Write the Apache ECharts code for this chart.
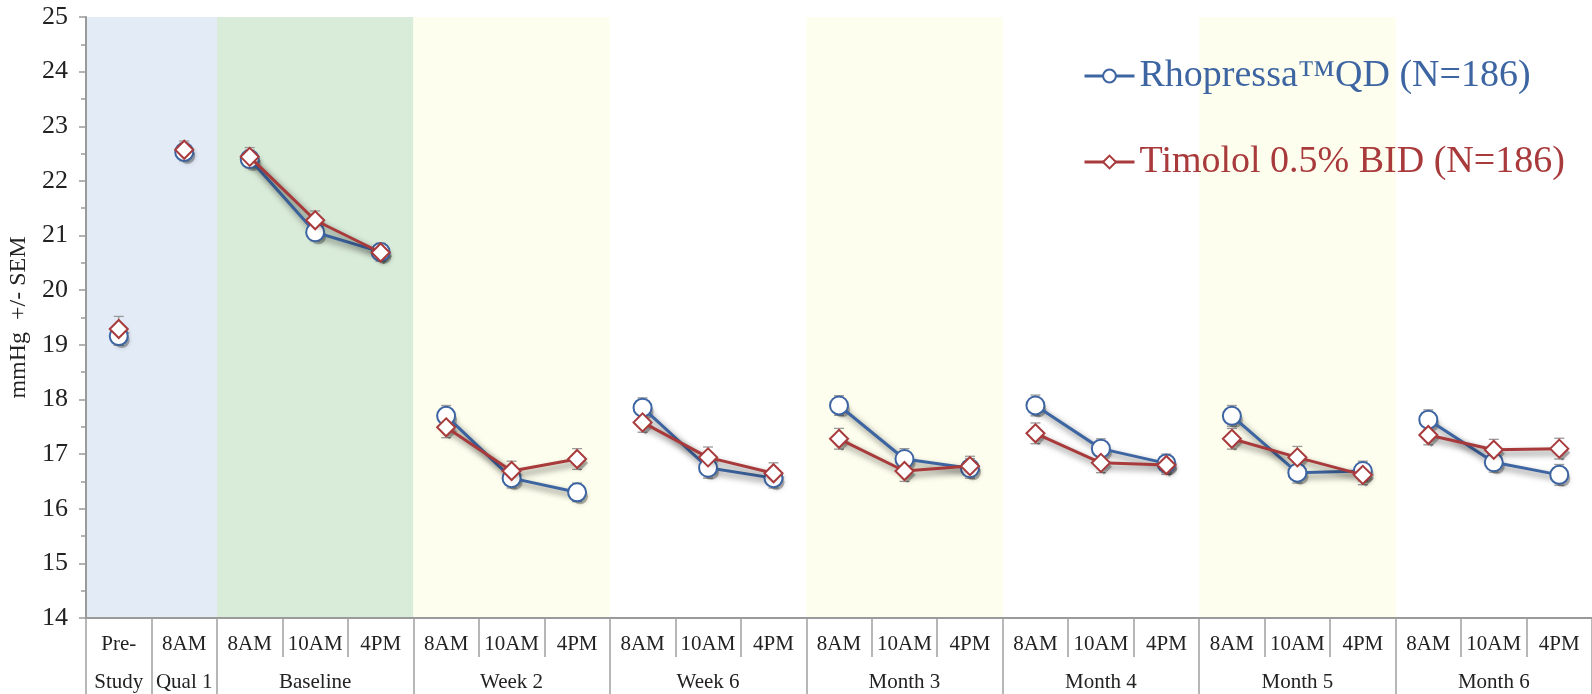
<!DOCTYPE html>
<html>
<head>
<meta charset="utf-8">
<script src="https://cdn.jsdelivr.net/npm/echarts@6/dist/echarts.min.js"></script>
<style>
html,body{margin:0;padding:0;background:#fff;}
#chart{width:1592px;height:694px;}
</style>
</head>
<body>
<div id="chart"></div>
<script>
// ---- data ----
var timeLabels = ['Pre-','8AM','8AM','10AM','4PM','8AM','10AM','4PM','8AM','10AM','4PM','8AM','10AM','4PM','8AM','10AM','4PM','8AM','10AM','4PM','8AM','10AM','4PM'];
var groupLabels = ['Study','Qual 1','','Baseline','','','Week 2','','','Week 6','','','Month 3','','','Month 4','','','Month 5','','','Month 6',''];
var rhopressa = [19.16,22.53,22.40,21.06,20.70,17.70,16.56,16.30,17.85,16.75,16.56,17.89,16.91,16.74,17.89,17.10,16.83,17.70,16.66,16.69,17.63,16.85,16.62];
var timolol   = [19.29,22.57,22.44,21.28,20.69,17.49,16.69,16.91,17.58,16.94,16.65,17.28,16.69,16.78,17.38,16.84,16.80,17.28,16.94,16.62,17.35,17.08,17.10];
var rhopressaSem = [0.17,0.16,0.16,0.16,0.16,0.19,0.18,0.17,0.18,0.19,0.18,0.18,0.19,0.18,0.19,0.18,0.17,0.19,0.19,0.18,0.18,0.18,0.19];
var timololSem   = [0.23,0.16,0.17,0.17,0.16,0.19,0.18,0.19,0.18,0.19,0.19,0.19,0.19,0.18,0.19,0.18,0.17,0.19,0.20,0.18,0.18,0.19,0.19];
var segments = [[0,0],[1,1],[2,4],[5,7],[8,10],[11,13],[14,16],[17,19],[20,22]];
var groupStarts = [0,1,2,5,8,11,14,17,20,23];
var bands = [[0,1],[2,4],[5,7],[11,13],[17,19]];
var bandColors = ['#E3EBF7','#D9EBD9','#FEFEEE','#FEFEEE','#FEFEEE'];
var yTicks = {min:14, max:25, interval:1};
var nameR = 'Rhopressa\u2122QD (N=186)';
var nameT = 'Timolol 0.5% BID (N=186)';

var BLUE = '#3D65A2', RED = '#A83A3C';
var FONT = '"Liberation Serif", "Times New Roman", serif';
var keys = timeLabels.map(function(_, i){ return 'c' + i; });

function segSeries(name, values, color, symbol, z){
  return segments.map(function(s){
    var d = values.map(function(v, i){ return (i >= s[0] && i <= s[1]) ? v : null; });
    return {
      name: name, type: 'line', data: d, z: z,
      symbol: symbol, symbolSize: 18, showSymbol: true,
      lineStyle: {color: color, width: 3, shadowColor: 'rgba(0,0,0,0.55)', shadowBlur: 6, shadowOffsetX: 3, shadowOffsetY: 4},
      itemStyle: {color: '#fff', borderColor: color, borderWidth: 2},
      emphasis: {disabled: true}
    };
  });
}

function errSeries(values, sems){
  return {
    type: 'custom', z: 2, silent: true,
    data: values.map(function(v, i){ return [i, v, sems[i]]; }),
    renderItem: function(params, api){
      var x = api.value(0), v = api.value(1), e = api.value(2);
      var top = api.coord([x, v + e]), bot = api.coord([x, v - e]);
      var w = 5;
      var st = {stroke: '#999999', lineWidth: 1.3};
      return {type: 'group', children: [
        {type: 'line', shape: {x1: top[0], y1: top[1], x2: bot[0], y2: bot[1]}, style: st},
        {type: 'line', shape: {x1: top[0]-w, y1: top[1], x2: top[0]+w, y2: top[1]}, style: st},
        {type: 'line', shape: {x1: bot[0]-w, y1: bot[1], x2: bot[0]+w, y2: bot[1]}, style: st}
      ]};
    }
  };
}

// soft drop shadows under markers
function shadowSeries(values, symbol){
  return {
    type: 'scatter', z: 2.5, silent: true, symbol: symbol, symbolSize: 16, symbolOffset: [3, 4],
    data: values.map(function(v, i){ return [i, v]; }),
    itemStyle: {color: 'rgba(0,0,0,0.35)', shadowColor: 'rgba(0,0,0,0.5)', shadowBlur: 5},
    emphasis: {disabled: true}
  };
}

var bandSeries = {
  type: 'custom', z: 0, silent: true,
  data: bands,
  encode: {x: [0, 1]},
  renderItem: function(params, api){
    var a = api.value(0), b = api.value(1);
    var bw = api.size([1, 0])[0];
    var p0 = api.coord([a, yTicks.max]), p1 = api.coord([b, yTicks.min]);
    return {type: 'rect', shape: {x: p0[0] - bw/2, y: p0[1], width: (p1[0] - p0[0]) + bw, height: p1[1] - p0[1]},
      style: {fill: bandColors[params.dataIndex]}};
  }
};

var chart = echarts.init(document.getElementById('chart'));
var option = {
  animation: false,
  backgroundColor: '#fff',
  grid: {left: 86, right: 0, top: 17, bottom: 76, containLabel: false, outerBoundsMode: 'none'},
  legend: {
    orient: 'vertical', left: 1078, top: 51, itemGap: 46,
    itemWidth: 50, itemHeight: 16,
    lineStyle: {width: 3},
    textStyle: {fontFamily: FONT, fontSize: 38, lineHeight: 40},
    data: [{name: nameR, textStyle: {color: BLUE}}, {name: nameT, textStyle: {color: RED}}]
  },
  xAxis: [{
    type: 'category', data: keys, boundaryGap: true, position: 'bottom',
    axisLine: {show: true, lineStyle: {color: '#9A9A9A', width: 2}},
    axisTick: {show: true, interval: 0, length: 39, lineStyle: {color: '#A0A0A0', width: 1.5}},
    axisLabel: {interval: 0, margin: 16, fontFamily: FONT, fontSize: 21, color: '#222',
      formatter: function(v, i){ return timeLabels[i]; }},
    splitLine: {show: false}
  }, {
    type: 'category', data: keys, boundaryGap: true, position: 'bottom', offset: 39,
    axisLine: {show: false},
    axisTick: {show: true, length: 38, lineStyle: {color: '#A0A0A0', width: 1.5},
      interval: function(i){ return groupStarts.indexOf(i) >= 0; }},
    axisLabel: {interval: 0, margin: 15, fontFamily: FONT, fontSize: 21, color: '#222',
      formatter: function(v, i){ return groupLabels[i]; }},
    splitLine: {show: false}
  }],
  yAxis: {
    type: 'value', min: yTicks.min, max: yTicks.max, interval: yTicks.interval,
    name: 'mmHg  +/- SEM', nameLocation: 'middle', nameGap: 48, nameRotate: 90,
    nameTextStyle: {fontFamily: FONT, fontSize: 24, color: '#222'},
    axisLine: {show: true, lineStyle: {color: '#9A9A9A', width: 2}},
    axisTick: {show: true, length: 7, lineStyle: {color: '#9A9A9A', width: 1.5}},
    minorTick: {show: true, splitNumber: 2, length: 5, lineStyle: {color: '#9A9A9A', width: 1.5}},
    axisLabel: {margin: 18, fontFamily: FONT, fontSize: 26, color: '#222'},
    splitLine: {show: false}
  },
  series: [bandSeries, errSeries(rhopressa, rhopressaSem), errSeries(timolol, timololSem),
           shadowSeries(rhopressa, 'circle'), shadowSeries(timolol, 'diamond')]
    .concat(segSeries(nameR, rhopressa, BLUE, 'circle', 3))
    .concat(segSeries(nameT, timolol, RED, 'diamond', 4))
};
chart.setOption(option);
</script>
</body>
</html>
